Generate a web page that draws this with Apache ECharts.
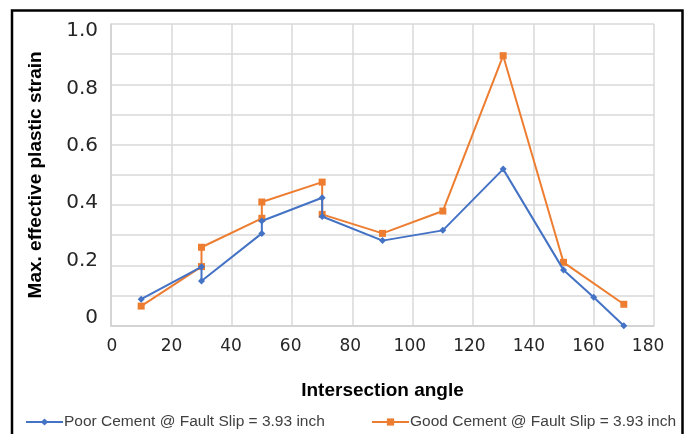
<!DOCTYPE html>
<html>
<head>
<meta charset="utf-8">
<script src="https://cdn.jsdelivr.net/npm/echarts@6/dist/echarts.min.js"></script>
<style>
  html, body { margin: 0; padding: 0; background: #fff; }
  #chart { width: 690px; height: 434px; }
</style>
</head>
<body>
<div id="chart"></div>
<script>
// Intersection angle (deg) and peak effective plastic strain for the two cement cases.
// Repeated angles carry two results at the same angle.
const poorAngles = [10, 30, 30, 50, 50, 70, 70, 90, 110, 130, 150, 160, 170];
const poorStrain = [0.088, 0.195, 0.148, 0.306, 0.347, 0.424, 0.362, 0.282, 0.316, 0.519, 0.185, 0.094, 0.0];

const goodAngles = [10, 30, 30, 50, 50, 70, 70, 90, 110, 130, 150, 170];
const goodStrain = [0.065, 0.196, 0.26, 0.356, 0.41, 0.476, 0.369, 0.306, 0.38, 0.895, 0.21, 0.071];

const seriesNames = ['Poor Cement @ Fault Slip = 3.93 inch', 'Good Cement @ Fault Slip = 3.93 inch'];
const xTickLabels = [0, 20, 40, 60, 80, 100, 120, 140, 160, 180];
const yTickLabels = [0, 0.2, 0.4, 0.6, 0.8, 1.0];
const xTitle = 'Intersection angle';
const yTitle = 'Max. effective plastic strain';

const zip = (xs, ys) => xs.map((x, i) => [x, ys[i]]);

const chart = echarts.init(document.getElementById('chart'), null, { renderer: 'canvas' });

const gridLine = { lineStyle: { color: '#d9d9d9', width: 1.5 } };
const legendText = { fontFamily: 'Liberation Sans', fontSize: 15.5, color: '#404040', padding: [0, 0, 0, -4] };

chart.setOption({
  animation: false,
  backgroundColor: '#fff',
  grid: { left: 111, top: 24, width: 543, height: 301.7, containLabel: false },
  xAxis: [
    {
      type: 'value', min: 0, max: 180, interval: 20,
      axisLine: { show: true, lineStyle: { color: '#d0d0d0', width: 1.5 } },
      axisTick: { show: false },
      axisLabel: { show: false },
      splitLine: Object.assign({ show: true }, gridLine),
      name: xTitle, nameLocation: 'middle', nameGap: 56,
      nameTextStyle: { fontFamily: 'Liberation Sans', fontWeight: 'bold', fontSize: 19, color: '#000' }
    },
    {
      // label track for the angle ticks
      type: 'value', position: 'bottom', min: -0.336, max: 182.0,
      axisLine: { show: false }, axisTick: { show: false }, splitLine: { show: false },
      axisLabel: {
        margin: 12, customValues: xTickLabels, formatter: v => String(v),
        fontFamily: 'DejaVu Sans', fontSize: 17, color: '#262626'
      }
    }
  ],
  yAxis: [
    {
      type: 'value', min: 0, max: 1, interval: 0.1,
      axisLine: { show: true, lineStyle: { color: '#d0d0d0', width: 1.5 } },
      axisTick: { show: false },
      axisLabel: { show: false },
      splitLine: Object.assign({ show: true }, gridLine),
      name: yTitle, nameLocation: 'middle', nameGap: 66, nameRotate: 90,
      nameTextStyle: { fontFamily: 'Liberation Sans', fontWeight: 'bold', fontSize: 19, color: '#000' }
    },
    {
      // label track for the strain ticks
      type: 'value', position: 'left', min: -0.0268, max: 1.0244,
      axisLine: { show: false }, axisTick: { show: false }, splitLine: { show: false },
      axisLabel: {
        margin: 13, customValues: yTickLabels,
        formatter: v => (v === 0 ? '0' : v.toFixed(1)),
        fontFamily: 'DejaVu Sans', fontSize: 20, color: '#262626'
      }
    }
  ],
  legend: [
    {
      left: 20, bottom: -1, itemWidth: 37, itemHeight: 9, itemGap: 0,
      data: [seriesNames[0]], textStyle: legendText
    },
    {
      left: 366, bottom: -1, itemWidth: 37, itemHeight: 9, itemGap: 0,
      data: [seriesNames[1]], textStyle: legendText
    }
  ],
  series: [
    {
      name: seriesNames[0], type: 'line', xAxisIndex: 0, yAxisIndex: 0,
      data: zip(poorAngles, poorStrain),
      symbol: 'diamond', symbolSize: 7,
      lineStyle: { color: '#4472C4', width: 2 },
      itemStyle: { color: '#4472C4' },
      z: 3
    },
    {
      name: seriesNames[1], type: 'line', xAxisIndex: 0, yAxisIndex: 0,
      data: zip(goodAngles, goodStrain),
      symbol: 'rect', symbolSize: 7,
      lineStyle: { color: '#ED7D31', width: 2 },
      itemStyle: { color: '#ED7D31' },
      z: 2
    }
  ],
  graphic: [
    {
      type: 'rect', silent: true, z: 100,
      shape: { x: 12, y: 10.5, width: 670.5, height: 440 },
      style: { fill: 'none', stroke: '#000', lineWidth: 2.5 }
    }
  ]
});
</script>
</body>
</html>
